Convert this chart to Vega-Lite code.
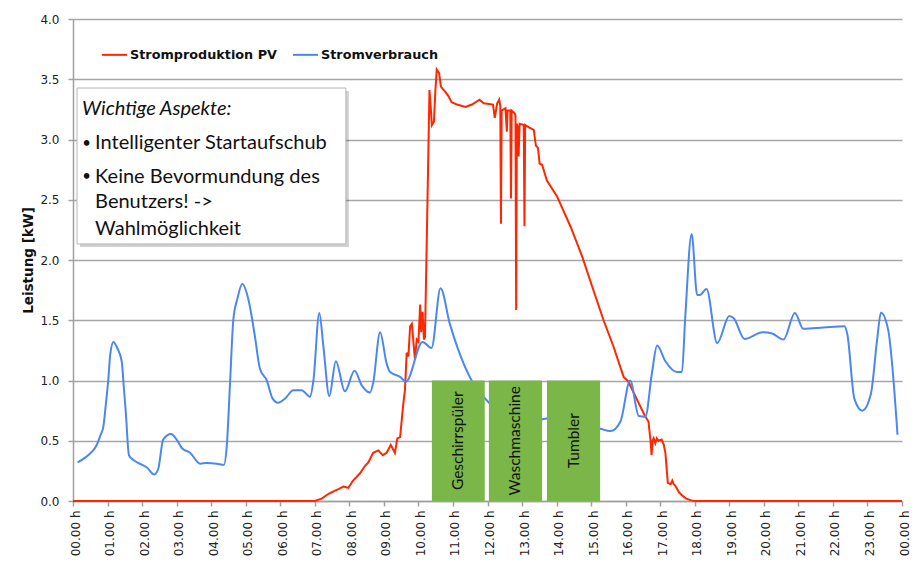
{
  "$schema": "https://vega.github.io/schema/vega-lite/v6.json",
  "width": 829,
  "height": 482,
  "autosize": {"type": "none"},
  "padding": {"left": 73, "top": 19, "right": 15, "bottom": 61},
  "background": "white",
  "config": {
    "view": {"stroke": null},
    "axis": {
      "domainColor": "#a0a0a0", "domainWidth": 1.5,
      "tickColor": "#a0a0a0", "tickWidth": 1.5, "tickSize": 5,
      "gridColor": "#a6a6a6", "gridWidth": 1.5,
      "labelFont": "DejaVu Sans", "labelFontSize": 12, "labelColor": "#222222",
      "titleFont": "DejaVu Sans", "titleFontSize": 13.5, "titleFontWeight": "bold", "titleColor": "#111111",
      "labelOverlap": false
    }
  },
  "datasets": {
    "pv": [
      {"h": 0, "kw": 0, "series": "Stromproduktion PV"},
      {"h": 7.0, "kw": 0, "series": "Stromproduktion PV"},
      {"h": 7.2, "kw": 0.02, "series": "Stromproduktion PV"},
      {"h": 7.4, "kw": 0.06, "series": "Stromproduktion PV"},
      {"h": 7.54, "kw": 0.08, "series": "Stromproduktion PV"},
      {"h": 7.7, "kw": 0.1, "series": "Stromproduktion PV"},
      {"h": 7.83, "kw": 0.12, "series": "Stromproduktion PV"},
      {"h": 7.97, "kw": 0.11, "series": "Stromproduktion PV"},
      {"h": 8.11, "kw": 0.17, "series": "Stromproduktion PV"},
      {"h": 8.31, "kw": 0.23, "series": "Stromproduktion PV"},
      {"h": 8.45, "kw": 0.29, "series": "Stromproduktion PV"},
      {"h": 8.55, "kw": 0.32, "series": "Stromproduktion PV"},
      {"h": 8.69, "kw": 0.40, "series": "Stromproduktion PV"},
      {"h": 8.84, "kw": 0.42, "series": "Stromproduktion PV"},
      {"h": 8.97, "kw": 0.38, "series": "Stromproduktion PV"},
      {"h": 9.08, "kw": 0.40, "series": "Stromproduktion PV"},
      {"h": 9.20, "kw": 0.465, "series": "Stromproduktion PV"},
      {"h": 9.32, "kw": 0.40, "series": "Stromproduktion PV"},
      {"h": 9.39, "kw": 0.52, "series": "Stromproduktion PV"},
      {"h": 9.47, "kw": 0.53, "series": "Stromproduktion PV"},
      {"h": 9.56, "kw": 0.80, "series": "Stromproduktion PV"},
      {"h": 9.61, "kw": 0.92, "series": "Stromproduktion PV"},
      {"h": 9.66, "kw": 1.23, "series": "Stromproduktion PV"},
      {"h": 9.71, "kw": 1.20, "series": "Stromproduktion PV"},
      {"h": 9.76, "kw": 1.45, "series": "Stromproduktion PV"},
      {"h": 9.81, "kw": 1.47, "series": "Stromproduktion PV"},
      {"h": 9.90, "kw": 1.17, "series": "Stromproduktion PV"},
      {"h": 9.95, "kw": 1.34, "series": "Stromproduktion PV"},
      {"h": 10.0, "kw": 1.32, "series": "Stromproduktion PV"},
      {"h": 10.05, "kw": 1.63, "series": "Stromproduktion PV"},
      {"h": 10.08, "kw": 1.40, "series": "Stromproduktion PV"},
      {"h": 10.12, "kw": 1.57, "series": "Stromproduktion PV"},
      {"h": 10.16, "kw": 1.34, "series": "Stromproduktion PV"},
      {"h": 10.19, "kw": 1.36, "series": "Stromproduktion PV"},
      {"h": 10.24, "kw": 2.14, "series": "Stromproduktion PV"},
      {"h": 10.32, "kw": 3.41, "series": "Stromproduktion PV"},
      {"h": 10.36, "kw": 3.25, "series": "Stromproduktion PV"},
      {"h": 10.39, "kw": 3.12, "series": "Stromproduktion PV"},
      {"h": 10.45, "kw": 3.15, "series": "Stromproduktion PV"},
      {"h": 10.49, "kw": 3.40, "series": "Stromproduktion PV"},
      {"h": 10.53, "kw": 3.58, "series": "Stromproduktion PV"},
      {"h": 10.60, "kw": 3.55, "series": "Stromproduktion PV"},
      {"h": 10.65, "kw": 3.44, "series": "Stromproduktion PV"},
      {"h": 10.70, "kw": 3.42, "series": "Stromproduktion PV"},
      {"h": 10.77, "kw": 3.40, "series": "Stromproduktion PV"},
      {"h": 10.87, "kw": 3.36, "series": "Stromproduktion PV"},
      {"h": 10.96, "kw": 3.31, "series": "Stromproduktion PV"},
      {"h": 11.12, "kw": 3.29, "series": "Stromproduktion PV"},
      {"h": 11.36, "kw": 3.27, "series": "Stromproduktion PV"},
      {"h": 11.55, "kw": 3.29, "series": "Stromproduktion PV"},
      {"h": 11.77, "kw": 3.33, "series": "Stromproduktion PV"},
      {"h": 11.89, "kw": 3.30, "series": "Stromproduktion PV"},
      {"h": 12.16, "kw": 3.29, "series": "Stromproduktion PV"},
      {"h": 12.21, "kw": 3.18, "series": "Stromproduktion PV"},
      {"h": 12.28, "kw": 3.30, "series": "Stromproduktion PV"},
      {"h": 12.34, "kw": 3.33, "series": "Stromproduktion PV"},
      {"h": 12.37, "kw": 3.28, "series": "Stromproduktion PV"},
      {"h": 12.39, "kw": 2.30, "series": "Stromproduktion PV"},
      {"h": 12.41, "kw": 3.24, "series": "Stromproduktion PV"},
      {"h": 12.52, "kw": 3.26, "series": "Stromproduktion PV"},
      {"h": 12.56, "kw": 3.065, "series": "Stromproduktion PV"},
      {"h": 12.58, "kw": 3.24, "series": "Stromproduktion PV"},
      {"h": 12.66, "kw": 3.24, "series": "Stromproduktion PV"},
      {"h": 12.68, "kw": 2.51, "series": "Stromproduktion PV"},
      {"h": 12.70, "kw": 3.24, "series": "Stromproduktion PV"},
      {"h": 12.78, "kw": 3.22, "series": "Stromproduktion PV"},
      {"h": 12.81, "kw": 3.20, "series": "Stromproduktion PV"},
      {"h": 12.83, "kw": 1.585, "series": "Stromproduktion PV"},
      {"h": 12.85, "kw": 3.13, "series": "Stromproduktion PV"},
      {"h": 12.88, "kw": 3.10, "series": "Stromproduktion PV"},
      {"h": 12.90, "kw": 2.86, "series": "Stromproduktion PV"},
      {"h": 12.93, "kw": 3.13, "series": "Stromproduktion PV"},
      {"h": 13.05, "kw": 3.12, "series": "Stromproduktion PV"},
      {"h": 13.07, "kw": 2.28, "series": "Stromproduktion PV"},
      {"h": 13.09, "kw": 3.12, "series": "Stromproduktion PV"},
      {"h": 13.20, "kw": 3.10, "series": "Stromproduktion PV"},
      {"h": 13.34, "kw": 3.08, "series": "Stromproduktion PV"},
      {"h": 13.40, "kw": 2.95, "series": "Stromproduktion PV"},
      {"h": 13.46, "kw": 2.93, "series": "Stromproduktion PV"},
      {"h": 13.51, "kw": 2.80, "series": "Stromproduktion PV"},
      {"h": 13.58, "kw": 2.79, "series": "Stromproduktion PV"},
      {"h": 13.72, "kw": 2.66, "series": "Stromproduktion PV"},
      {"h": 14.01, "kw": 2.53, "series": "Stromproduktion PV"},
      {"h": 14.40, "kw": 2.28, "series": "Stromproduktion PV"},
      {"h": 14.74, "kw": 2.03, "series": "Stromproduktion PV"},
      {"h": 15.03, "kw": 1.78, "series": "Stromproduktion PV"},
      {"h": 15.36, "kw": 1.50, "series": "Stromproduktion PV"},
      {"h": 15.65, "kw": 1.28, "series": "Stromproduktion PV"},
      {"h": 15.94, "kw": 1.03, "series": "Stromproduktion PV"},
      {"h": 16.08, "kw": 0.99, "series": "Stromproduktion PV"},
      {"h": 16.38, "kw": 0.81, "series": "Stromproduktion PV"},
      {"h": 16.56, "kw": 0.705, "series": "Stromproduktion PV"},
      {"h": 16.66, "kw": 0.66, "series": "Stromproduktion PV"},
      {"h": 16.72, "kw": 0.50, "series": "Stromproduktion PV"},
      {"h": 16.75, "kw": 0.38, "series": "Stromproduktion PV"},
      {"h": 16.78, "kw": 0.50, "series": "Stromproduktion PV"},
      {"h": 16.81, "kw": 0.52, "series": "Stromproduktion PV"},
      {"h": 16.86, "kw": 0.48, "series": "Stromproduktion PV"},
      {"h": 16.90, "kw": 0.52, "series": "Stromproduktion PV"},
      {"h": 16.95, "kw": 0.50, "series": "Stromproduktion PV"},
      {"h": 17.04, "kw": 0.51, "series": "Stromproduktion PV"},
      {"h": 17.10, "kw": 0.47, "series": "Stromproduktion PV"},
      {"h": 17.15, "kw": 0.40, "series": "Stromproduktion PV"},
      {"h": 17.22, "kw": 0.15, "series": "Stromproduktion PV"},
      {"h": 17.30, "kw": 0.14, "series": "Stromproduktion PV"},
      {"h": 17.35, "kw": 0.17, "series": "Stromproduktion PV"},
      {"h": 17.39, "kw": 0.14, "series": "Stromproduktion PV"},
      {"h": 17.43, "kw": 0.13, "series": "Stromproduktion PV"},
      {"h": 17.49, "kw": 0.10, "series": "Stromproduktion PV"},
      {"h": 17.55, "kw": 0.07, "series": "Stromproduktion PV"},
      {"h": 17.62, "kw": 0.05, "series": "Stromproduktion PV"},
      {"h": 17.75, "kw": 0.02, "series": "Stromproduktion PV"},
      {"h": 17.90, "kw": 0.005, "series": "Stromproduktion PV"},
      {"h": 18.0, "kw": 0, "series": "Stromproduktion PV"},
      {"h": 24.0, "kw": 0, "series": "Stromproduktion PV"}
    ],
    "verbrauch": [
      {"h": 0.135, "kw": 0.32, "series": "Stromverbrauch"},
      {"h": 0.35, "kw": 0.36, "series": "Stromverbrauch"},
      {"h": 0.55, "kw": 0.41, "series": "Stromverbrauch"},
      {"h": 0.68, "kw": 0.46, "series": "Stromverbrauch"},
      {"h": 0.80, "kw": 0.55, "series": "Stromverbrauch"},
      {"h": 0.88, "kw": 0.62, "series": "Stromverbrauch"},
      {"h": 0.95, "kw": 0.80, "series": "Stromverbrauch"},
      {"h": 1.02, "kw": 1.0, "series": "Stromverbrauch"},
      {"h": 1.08, "kw": 1.22, "series": "Stromverbrauch"},
      {"h": 1.17, "kw": 1.32, "series": "Stromverbrauch"},
      {"h": 1.28, "kw": 1.27, "series": "Stromverbrauch"},
      {"h": 1.41, "kw": 1.16, "series": "Stromverbrauch"},
      {"h": 1.47, "kw": 0.95, "series": "Stromverbrauch"},
      {"h": 1.53, "kw": 0.73, "series": "Stromverbrauch"},
      {"h": 1.62, "kw": 0.38, "series": "Stromverbrauch"},
      {"h": 1.75, "kw": 0.34, "series": "Stromverbrauch"},
      {"h": 2.0, "kw": 0.30, "series": "Stromverbrauch"},
      {"h": 2.13, "kw": 0.28, "series": "Stromverbrauch"},
      {"h": 2.35, "kw": 0.22, "series": "Stromverbrauch"},
      {"h": 2.47, "kw": 0.27, "series": "Stromverbrauch"},
      {"h": 2.61, "kw": 0.51, "series": "Stromverbrauch"},
      {"h": 2.84, "kw": 0.556, "series": "Stromverbrauch"},
      {"h": 3.0, "kw": 0.51, "series": "Stromverbrauch"},
      {"h": 3.15, "kw": 0.44, "series": "Stromverbrauch"},
      {"h": 3.39, "kw": 0.40, "series": "Stromverbrauch"},
      {"h": 3.68, "kw": 0.31, "series": "Stromverbrauch"},
      {"h": 3.87, "kw": 0.315, "series": "Stromverbrauch"},
      {"h": 4.16, "kw": 0.31, "series": "Stromverbrauch"},
      {"h": 4.37, "kw": 0.30, "series": "Stromverbrauch"},
      {"h": 4.45, "kw": 0.45, "series": "Stromverbrauch"},
      {"h": 4.55, "kw": 1.0, "series": "Stromverbrauch"},
      {"h": 4.64, "kw": 1.50, "series": "Stromverbrauch"},
      {"h": 4.76, "kw": 1.68, "series": "Stromverbrauch"},
      {"h": 4.90, "kw": 1.80, "series": "Stromverbrauch"},
      {"h": 5.08, "kw": 1.67, "series": "Stromverbrauch"},
      {"h": 5.27, "kw": 1.36, "series": "Stromverbrauch"},
      {"h": 5.41, "kw": 1.10, "series": "Stromverbrauch"},
      {"h": 5.61, "kw": 1.0, "series": "Stromverbrauch"},
      {"h": 5.78, "kw": 0.85, "series": "Stromverbrauch"},
      {"h": 5.94, "kw": 0.816, "series": "Stromverbrauch"},
      {"h": 6.14, "kw": 0.85, "series": "Stromverbrauch"},
      {"h": 6.38, "kw": 0.92, "series": "Stromverbrauch"},
      {"h": 6.62, "kw": 0.92, "series": "Stromverbrauch"},
      {"h": 6.86, "kw": 0.866, "series": "Stromverbrauch"},
      {"h": 6.96, "kw": 1.0, "series": "Stromverbrauch"},
      {"h": 7.13, "kw": 1.56, "series": "Stromverbrauch"},
      {"h": 7.25, "kw": 1.28, "series": "Stromverbrauch"},
      {"h": 7.42, "kw": 0.87, "series": "Stromverbrauch"},
      {"h": 7.61, "kw": 1.16, "series": "Stromverbrauch"},
      {"h": 7.87, "kw": 0.91, "series": "Stromverbrauch"},
      {"h": 8.15, "kw": 1.08, "series": "Stromverbrauch"},
      {"h": 8.36, "kw": 0.96, "series": "Stromverbrauch"},
      {"h": 8.60, "kw": 0.90, "series": "Stromverbrauch"},
      {"h": 8.69, "kw": 0.98, "series": "Stromverbrauch"},
      {"h": 8.89, "kw": 1.40, "series": "Stromverbrauch"},
      {"h": 9.08, "kw": 1.14, "series": "Stromverbrauch"},
      {"h": 9.18, "kw": 1.07, "series": "Stromverbrauch"},
      {"h": 9.47, "kw": 1.03, "series": "Stromverbrauch"},
      {"h": 9.64, "kw": 0.99, "series": "Stromverbrauch"},
      {"h": 10.12, "kw": 1.32, "series": "Stromverbrauch"},
      {"h": 10.38, "kw": 1.27, "series": "Stromverbrauch"},
      {"h": 10.64, "kw": 1.765, "series": "Stromverbrauch"},
      {"h": 10.91, "kw": 1.47, "series": "Stromverbrauch"},
      {"h": 11.16, "kw": 1.25, "series": "Stromverbrauch"},
      {"h": 11.54, "kw": 1.0, "series": "Stromverbrauch"},
      {"h": 12.03, "kw": 0.82, "series": "Stromverbrauch"},
      {"h": 13.2, "kw": 0.64, "series": "Stromverbrauch"},
      {"h": 13.62, "kw": 0.68, "series": "Stromverbrauch"},
      {"h": 14.3, "kw": 0.70, "series": "Stromverbrauch"},
      {"h": 15.27, "kw": 0.60, "series": "Stromverbrauch"},
      {"h": 15.56, "kw": 0.58, "series": "Stromverbrauch"},
      {"h": 15.85, "kw": 0.66, "series": "Stromverbrauch"},
      {"h": 16.13, "kw": 1.0, "series": "Stromverbrauch"},
      {"h": 16.38, "kw": 0.705, "series": "Stromverbrauch"},
      {"h": 16.57, "kw": 0.70, "series": "Stromverbrauch"},
      {"h": 16.76, "kw": 1.06, "series": "Stromverbrauch"},
      {"h": 16.91, "kw": 1.29, "series": "Stromverbrauch"},
      {"h": 17.15, "kw": 1.16, "series": "Stromverbrauch"},
      {"h": 17.49, "kw": 1.07, "series": "Stromverbrauch"},
      {"h": 17.63, "kw": 1.07, "series": "Stromverbrauch"},
      {"h": 17.72, "kw": 1.5, "series": "Stromverbrauch"},
      {"h": 17.91, "kw": 2.216, "series": "Stromverbrauch"},
      {"h": 18.07, "kw": 1.71, "series": "Stromverbrauch"},
      {"h": 18.15, "kw": 1.71, "series": "Stromverbrauch"},
      {"h": 18.34, "kw": 1.76, "series": "Stromverbrauch"},
      {"h": 18.65, "kw": 1.31, "series": "Stromverbrauch"},
      {"h": 19.0, "kw": 1.535, "series": "Stromverbrauch"},
      {"h": 19.13, "kw": 1.516, "series": "Stromverbrauch"},
      {"h": 19.44, "kw": 1.345, "series": "Stromverbrauch"},
      {"h": 19.97, "kw": 1.40, "series": "Stromverbrauch"},
      {"h": 20.24, "kw": 1.39, "series": "Stromverbrauch"},
      {"h": 20.57, "kw": 1.34, "series": "Stromverbrauch"},
      {"h": 20.9, "kw": 1.56, "series": "Stromverbrauch"},
      {"h": 21.14, "kw": 1.43, "series": "Stromverbrauch"},
      {"h": 21.73, "kw": 1.44, "series": "Stromverbrauch"},
      {"h": 22.33, "kw": 1.45, "series": "Stromverbrauch"},
      {"h": 22.42, "kw": 1.38, "series": "Stromverbrauch"},
      {"h": 22.62, "kw": 0.85, "series": "Stromverbrauch"},
      {"h": 22.85, "kw": 0.75, "series": "Stromverbrauch"},
      {"h": 23.1, "kw": 0.89, "series": "Stromverbrauch"},
      {"h": 23.28, "kw": 1.34, "series": "Stromverbrauch"},
      {"h": 23.39, "kw": 1.563, "series": "Stromverbrauch"},
      {"h": 23.6, "kw": 1.42, "series": "Stromverbrauch"},
      {"h": 23.87, "kw": 0.55, "series": "Stromverbrauch"}
    ],
    "geraete": [
      {"geraet": "Geschirrspüler", "h": 10.39, "h2": 11.92, "mitte": 11.155, "kw": 0, "kw2": 1, "kwm": 0.5},
      {"geraet": "Waschmaschine", "h": 12.04, "h2": 13.58, "mitte": 12.81, "kw": 0, "kw2": 1, "kwm": 0.5},
      {"geraet": "Tumbler", "h": 13.72, "h2": 15.26, "mitte": 14.49, "kw": 0, "kw2": 1, "kwm": 0.5}
    ],
    "notiz": [
      {"h": 0.116, "h2": 7.9, "kw": 2.133, "kw2": 3.427}
    ],
    "kopf": [
      {"text": "Wichtige Aspekte:", "h": 0.26, "kw": 3.203}
    ],
    "zeilen": [
      {"text": "Intelligenter Startaufschub", "h": 0.64, "kw": 2.919},
      {"text": "Keine Bevormundung des", "h": 0.64, "kw": 2.641},
      {"text": "Benutzers! ->", "h": 0.64, "kw": 2.429},
      {"text": "Wahlmöglichkeit", "h": 0.64, "kw": 2.207}
    ],
    "punkte": [
      {"text": "•", "h": 0.27, "kw": 2.93},
      {"text": "•", "h": 0.27, "kw": 2.652}
    ]
  },
  "encoding": {
    "x": {
      "field": "h", "type": "quantitative",
      "scale": {"domain": [0, 24], "nice": false, "zero": false},
      "title": null,
      "axis": {
        "values": [0,1,2,3,4,5,6,7,8,9,10,11,12,13,14,15,16,17,18,19,20,21,22,23,24],
        "tickCount": 40,
        "labelExpr": "(datum.value % 24 < 10 ? '0' : '') + (datum.value % 24) + '.00 h'",
        "labelAngle": -90, "labelPadding": 4, "labelOffset": 2, "grid": false,
        "labelFlush": false, "labelOverlap": false, "labelBound": false
      }
    },
    "y": {
      "field": "kw", "type": "quantitative",
      "scale": {"domain": [0, 4], "nice": false},
      "title": "Leistung [kW]",
      "axis": {
        "values": [0, 0.5, 1, 1.5, 2, 2.5, 3, 3.5, 4],
        "tickCount": 20,
        "format": ".1f", "grid": true, "labelPadding": 9, "labelFlush": false,
        "titleX": -38, "titleY": 241
      }
    }
  },
  "layer": [
    {
      "data": {"name": "notiz"},
      "mark": {"type": "rect", "fill": "#000000", "opacity": 0.18, "xOffset": 3, "x2Offset": 3, "yOffset": 3, "y2Offset": 3},
      "encoding": {"x2": {"field": "h2"}, "y2": {"field": "kw2"}}
    },
    {
      "data": {"name": "notiz"},
      "mark": {"type": "rect", "fill": "#ffffff", "stroke": "#b5b5b5", "strokeWidth": 1},
      "encoding": {"x2": {"field": "h2"}, "y2": {"field": "kw2"}}
    },
    {
      "data": {"name": "pv"},
      "mark": {"type": "line", "strokeWidth": 2, "interpolate": "linear"},
      "encoding": {
        "color": {
          "field": "series", "type": "nominal",
          "scale": {"domain": ["Stromproduktion PV", "Stromverbrauch"], "range": ["#ff2600", "#4a87f2"]},
          "legend": {
            "orient": "none", "legendX": 28, "legendY": 22, "direction": "horizontal", "title": null,
            "symbolType": "stroke", "symbolSize": 625, "symbolStrokeWidth": 2,
            "labelFont": "DejaVu Sans", "labelFontWeight": "bold", "labelFontSize": 12.8, "labelColor": "#111111",
            "labelOffset": 2, "columnPadding": 12
          }
        }
      }
    },
    {
      "data": {"name": "verbrauch"},
      "mark": {"type": "line", "strokeWidth": 2, "interpolate": "monotone"},
      "encoding": {"color": {"field": "series", "type": "nominal"}}
    },
    {
      "data": {"name": "geraete"},
      "mark": {"type": "rect", "fill": "#7ab648"},
      "encoding": {"x2": {"field": "h2"}, "y2": {"field": "kw2"}}
    },
    {
      "data": {"name": "geraete"},
      "mark": {"type": "text", "angle": 270, "align": "center", "baseline": "middle", "font": "Lato", "fontSize": 15.5, "color": "#111111"},
      "encoding": {
        "x": {"field": "mitte", "type": "quantitative"},
        "y": {"field": "kwm", "type": "quantitative"},
        "text": {"field": "geraet"}
      }
    },
    {
      "data": {"name": "kopf"},
      "mark": {"type": "text", "align": "left", "baseline": "alphabetic", "font": "Lato", "fontSize": 20, "fontStyle": "italic", "color": "#111111"},
      "encoding": {"text": {"field": "text"}}
    },
    {
      "data": {"name": "zeilen"},
      "mark": {"type": "text", "align": "left", "baseline": "alphabetic", "font": "Lato", "fontSize": 20, "color": "#111111"},
      "encoding": {"text": {"field": "text"}}
    },
    {
      "data": {"name": "punkte"},
      "mark": {"type": "text", "align": "left", "baseline": "alphabetic", "font": "Lato", "fontSize": 15, "color": "#111111"},
      "encoding": {"text": {"field": "text"}}
    }
  ]
}
